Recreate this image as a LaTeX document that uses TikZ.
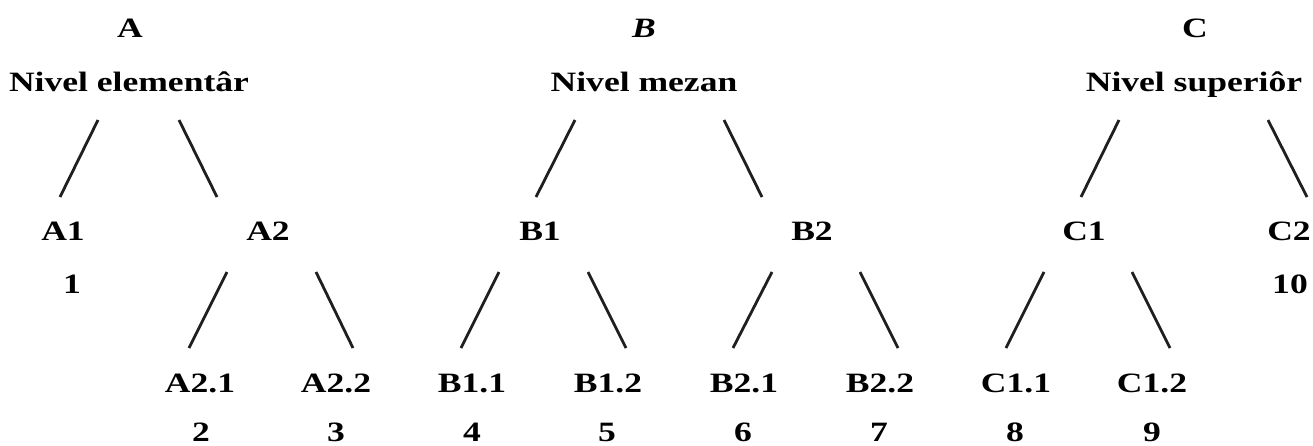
\documentclass[tikz,border=0pt]{standalone}
\usepackage{fontspec}
\setmainfont{Liberation Serif}
\newfontfamily\lblfont{Liberation Serif}[FakeStretch=1.27]
\begin{document}
\begin{tikzpicture}[x=0.5pt,y=-0.5pt,
  lbl/.style={anchor=base, inner sep=0pt, font=\lblfont\fontsize{14}{16}\selectfont\bfseries},
  edge/.style={line width=1.4pt, line cap=butt, color=black!88}]
\useasboundingbox (0,0) rectangle (1313,445);
% top row
\node[lbl] (A) at (130,37) {A};
\node[lbl] (B) at (644,37) {\itshape B};
\node[lbl] (C) at (1195,37) {C};
\node[lbl] (nA) at (129,91) {Nivel elementâr};
\node[lbl] (nB) at (644,91) {Nivel mezan};
\node[lbl] (nC) at (1194,91) {Nivel superiôr};
% middle row
\node[lbl] (A1) at (63,240) {A1};
\node[lbl] (A2) at (268,240) {A2};
\node[lbl] (B1) at (540,240) {B1};
\node[lbl] (B2) at (812,240) {B2};
\node[lbl] (C1) at (1084,240) {C1};
\node[lbl] (C2) at (1289,240) {C2};
\node[lbl] (k1) at (72,293) {1};
\node[lbl] (k10) at (1290,293) {10};
% bottom row
\node[lbl] (A21) at (200,392) {A2.1};
\node[lbl] (A22) at (336,392) {A2.2};
\node[lbl] (B11) at (472,392) {B1.1};
\node[lbl] (B12) at (608,392) {B1.2};
\node[lbl] (B21) at (744,392) {B2.1};
\node[lbl] (B22) at (880,392) {B2.2};
\node[lbl] (C11) at (1016,392) {C1.1};
\node[lbl] (C12) at (1152,392) {C1.2};
\node[lbl] (k2) at (201,441) {2};
\node[lbl] (k3) at (336,441) {3};
\node[lbl] (k4) at (472,441) {4};
\node[lbl] (k5) at (607,441) {5};
\node[lbl] (k6) at (743,441) {6};
\node[lbl] (k7) at (879,441) {7};
\node[lbl] (k8) at (1015,441) {8};
\node[lbl] (k9) at (1152,441) {9};
% connector ends, first level
\coordinate (nA-l) at (98,120);   \coordinate (A1-t) at (60,197);
\coordinate (nA-r) at (179,120);  \coordinate (A2-t) at (217,197);
\coordinate (nB-l) at (575,120);  \coordinate (B1-t) at (536,197);
\coordinate (nB-r) at (724,120);  \coordinate (B2-t) at (762,197);
\coordinate (nC-l) at (1119,120); \coordinate (C1-t) at (1081,197);
\coordinate (nC-r) at (1268,120); \coordinate (C2-t) at (1307,197);
% connector ends, second level
\coordinate (A2-l) at (227,272);  \coordinate (A21-t) at (189,348);
\coordinate (A2-r) at (316,272);  \coordinate (A22-t) at (353,348);
\coordinate (B1-l) at (499,272);  \coordinate (B11-t) at (461,348);
\coordinate (B1-r) at (588,272);  \coordinate (B12-t) at (626,348);
\coordinate (B2-l) at (772,272);  \coordinate (B21-t) at (733,348);
\coordinate (B2-r) at (860,272);  \coordinate (B22-t) at (898,348);
\coordinate (C1-l) at (1044,272); \coordinate (C11-t) at (1006,348);
\coordinate (C1-r) at (1132,272); \coordinate (C12-t) at (1170,348);
\draw[edge] (nA-l) -- (A1-t);
\draw[edge] (nA-r) -- (A2-t);
\draw[edge] (nB-l) -- (B1-t);
\draw[edge] (nB-r) -- (B2-t);
\draw[edge] (nC-l) -- (C1-t);
\draw[edge] (nC-r) -- (C2-t);
\draw[edge] (A2-l) -- (A21-t);
\draw[edge] (A2-r) -- (A22-t);
\draw[edge] (B1-l) -- (B11-t);
\draw[edge] (B1-r) -- (B12-t);
\draw[edge] (B2-l) -- (B21-t);
\draw[edge] (B2-r) -- (B22-t);
\draw[edge] (C1-l) -- (C11-t);
\draw[edge] (C1-r) -- (C12-t);
\end{tikzpicture}
\end{document}
